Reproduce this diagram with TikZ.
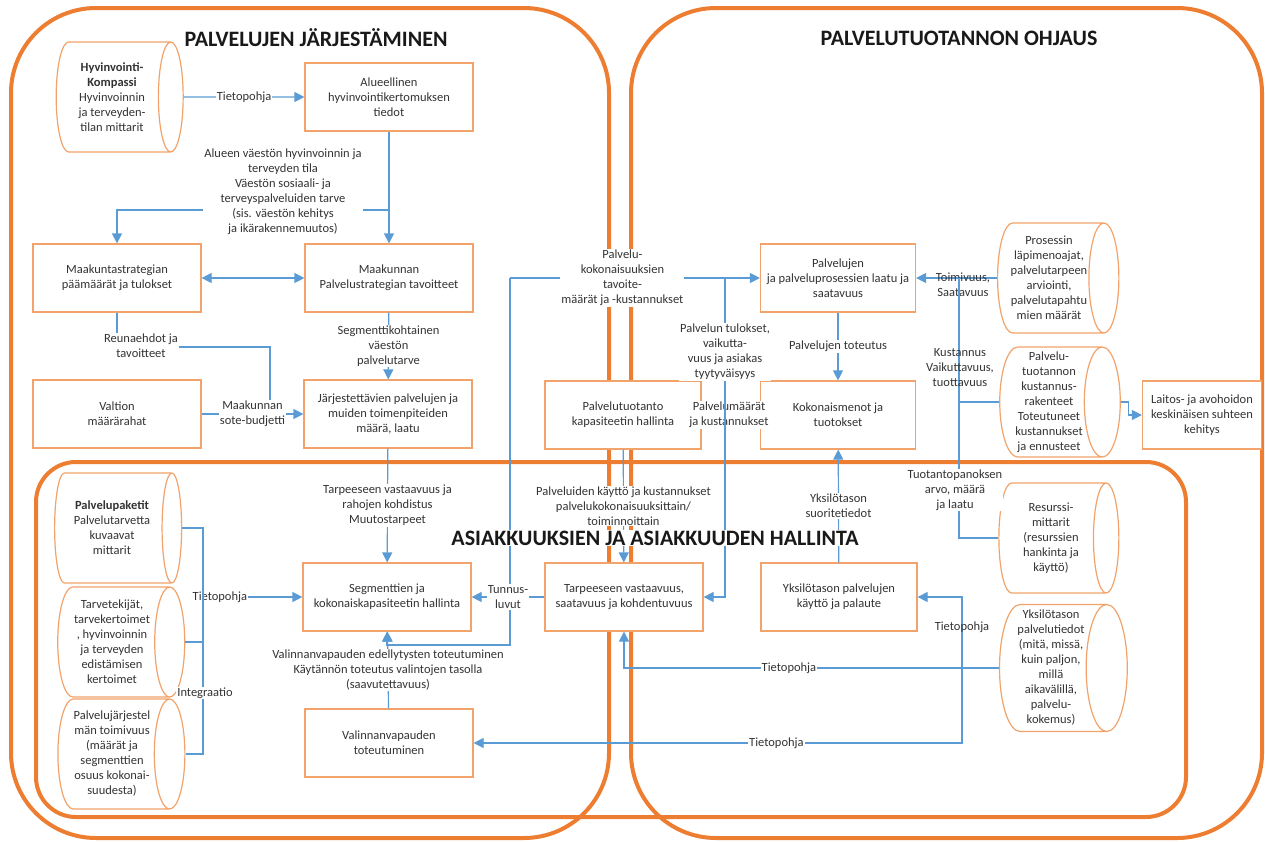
\documentclass[tikz,border=0pt]{standalone}
\usepackage{fontspec}
\setmainfont{Carlito}
\usepackage{xcolor}
\usetikzlibrary{shapes.geometric, arrows.meta, positioning}

\definecolor{frameorange}{HTML}{ED7D31}
\definecolor{boxorange}{HTML}{F2A36B}
\definecolor{linkblue}{HTML}{5B9BD5}
\definecolor{textgray}{HTML}{333333}

\begin{document}
\begin{tikzpicture}[
    x=1pt, y=-1pt,
    frame/.style={draw=frameorange, line width=4pt, rounded corners=85pt},
    box/.style={rectangle, draw=boxorange, line width=1.2pt, fill=white, minimum width=168pt, minimum height=68pt, align=center, inner sep=2pt, text=textgray, font=\fontsize{12.5}{15}\selectfont},
    store/.style={cylinder, draw=boxorange, line width=1.2pt, fill=white, aspect=0.35, minimum width=110pt, minimum height=127pt, align=center, inner sep=1pt, text=textgray, font=\fontsize{12.5}{15}\selectfont},
    lbl/.style={align=center, inner sep=1pt, text=textgray, font=\fontsize{12.5}{15}\selectfont},
    lblw/.style={lbl, fill=white},
    title/.style={inner sep=1pt, text=black!90, font=\fontsize{22}{26}\selectfont\bfseries},
    line/.style={draw=linkblue, line width=1.2pt},
    arrow/.style={line, -{Triangle[length=10pt, width=10pt]}},
    both/.style={line, {Triangle[length=10pt, width=10pt]}-{Triangle[length=10pt, width=10pt]}}
]
\useasboundingbox (0,0) rectangle (1265,841);

% Frames
\draw[frame] (11,8) rectangle (609,838);
\draw[frame] (631,8) rectangle (1262,838);
\draw[frame, rounded corners=40pt] (36,462) rectangle (1186,817);

\node[title] (t_jarj) at (316,38) {PALVELUJEN JÄRJESTÄMINEN};
\node[title] (t_ohjaus) at (959,38) {PALVELUTUOTANNON OHJAUS};

% Top left: Palvelujen jarjestaminen
\node[store] (kompassi) at (112,97) {\textbf{Hyvinvointi-}\\\textbf{Kompassi}\\Hyvinvoinnin\\ja terveyden-\\tilan mittarit};
\node[box] (alue_tieto) at (389,97) {Alueellinen\\hyvinvointikertomuksen\\tiedot};
\node[box] (maak_strat) at (117,278) {Maakuntastrategian\\päämäärät ja tulokset};
\node[box] (palv_strat) at (389,278) {Maakunnan\\Palvelustrategian tavoitteet};
\node[box] (valtio) at (117,414) {Valtion\\määrärahat};
\node[box] (jarj_palv) at (388,414) {Järjestettävien palvelujen ja\\muiden toimenpiteiden\\määrä, laatu};

% Top right: Palvelutuotannon ohjaus
\node[box, minimum width=156pt] (tuot_kap) at (623,415) {Palvelutuotanto\\kapasiteetin hallinta};
\node[box, minimum width=155pt] (laatu) at (838,278) {Palvelujen\\ja palveluprosessien laatu ja\\saatavuus};
\node[box, minimum width=155pt] (kokon) at (838,415) {Kokonaismenot ja\\tuotokset};
\node[box, minimum width=119pt] (laitos) at (1202,415) {Laitos- ja avohoidon\\keskinäisen suhteen\\kehitys};
\node[store, minimum height=116pt] (prosessi) at (1049,278) {Prosessin\\läpimenoajat,\\palvelutarpeen\\arviointi,\\palvelutapahtu\\mien määrät};
\node[store, minimum height=116pt] (kustannus) at (1049,402) {Palvelu-\\tuotannon\\kustannus-\\rakenteet\\Toteutuneet\\kustannukset\\ja ennusteet};

% Bottom: Asiakkuuksien hallinta
\node[store] (paketit) at (112,528) {\textbf{Palvelupaketit}\\Palvelutarvetta\\kuvaavat\\mittarit};
\node[store] (tarvetek) at (112,642) {Tarvetekijät,\\tarvekertoimet\\, hyvinvoinnin\\ja terveyden\\edistämisen\\kertoimet};
\node[store] (jarj_toim) at (112,754) {Palvelujärjestel\\män toimivuus\\(määrät ja\\segmenttien\\osuus kokonai-\\suudesta)};
\node[box] (segm) at (387,597) {Segmenttien ja\\kokonaiskapasiteetin hallinta};
\node[box] (valinta) at (389,743) {Valinnanvapauden\\toteutuminen};
\node[box, minimum width=158pt] (tarve) at (624,597) {Tarpeeseen vastaavuus,\\saatavuus ja kohdentuvuus};
\node[box, minimum width=156pt] (yks_palv) at (839,597) {Yksilötason palvelujen\\käyttö ja palaute};
\node[store, minimum height=120pt] (resurssi) at (1051,538) {Resurssi-\\mittarit\\(resurssien\\hankinta ja\\käyttö)};
\node[store, minimum height=120pt, minimum width=127pt] (yks_data) at (1051,668) {Yksilötason\\palvelutiedot\\(mitä, missä,\\kuin paljon,\\millä\\aikavälillä,\\palvelu-\\kokemus)};

% Connectors, left frame
\draw[arrow] (kompassi.east) -- node[lblw] {Tietopohja} (alue_tieto.west);
\coordinate (split_a) at (389,210);
\draw[arrow] (alue_tieto) -- (palv_strat);
\draw[arrow] (split_a) -| (maak_strat.north);
\node[lblw] (lbl_vaesto) at (283,192) {Alueen väestön hyvinvoinnin ja\\terveyden tila\\Väestön sosiaali- ja\\terveyspalveluiden tarve\\(sis. väestön kehitys\\ja ikärakennemuutos)};
\draw[both] (maak_strat) -- (palv_strat);
\draw[arrow] (palv_strat) -- node[lblw] {Segmenttikohtainen\\väestön\\palvelutarve} (jarj_palv);
\coordinate (budj) at (270,347);
\draw[line] (maak_strat.south) |- (budj) -- (budj |- valtio.east);
\node[lblw] (lbl_reuna) at (141,346) {Reunaehdot ja\\tavoitteet};
\draw[arrow] (valtio) -- node[lblw] {Maakunnan\\sote-budjetti} (jarj_palv);
\draw[arrow] (jarj_palv) -- node[lblw] {Tarpeeseen vastaavuus ja\\rahojen kohdistus\\Muutostarpeet} (segm);

% Connectors, bottom left
\coordinate (brk) at (203,597);
\draw[arrow] (brk) -- node[lblw, pos=0.17] {Tietopohja} (segm.west);
\draw[line] (paketit.east) -- (paketit.east -| brk) |- (jarj_toim.east);
\draw[line] (tarvetek.east) -- (tarvetek.east -| brk);
\node[lblw] (lbl_integr) at (205,693) {Integraatio};
\draw[arrow] (valinta) -- node[lblw] {Valinnanvapauden edellytysten toteutuminen\\Käytännön toteutus valintojen tasolla\\(saavutettavuus)} (segm);

% Connectors, middle
\coordinate (k_top) at (510,278);
\coordinate (k_bot) at (510,645);
\coordinate (k_mid) at (725,278);
\draw[arrow] (k_top) -- node[lblw, pos=0.45] {Palvelu-\\kokonaisuuksien\\tavoite-\\määrät ja -kustannukset} (laatu.west);
\draw[arrow] (k_top) -- (k_bot) -| (segm.south);
\draw[arrow] (tarve) -- node[lblw] {Tunnus-\\luvut} (segm);
\node[lblw] (lbl_maarat) at (729,415) {Palvelumäärät\\ja kustannukset};
\draw[arrow] (k_mid) |- (tarve.east);
\node[lblw] (lbl_tulos) at (725,352) {Palvelun tulokset,\\vaikutta-\\vuus ja asiakas\\tyytyväisyys};
\draw[arrow] (tuot_kap) -- node[lblw] {Palveluiden käyttö ja kustannukset\\palvelukokonaisuuksittain/\\toiminnoittain} (tarve);

% Connectors, right frame
\draw[arrow] (laatu) -- node[lblw] {Palvelujen toteutus} (kokon);
\draw[arrow] (yks_palv) -- node[lblw] {Yksilötason\\suoritetiedot} (kokon);
\draw[arrow] (prosessi.west) -- (laatu.east);
\node[lbl] (lbl_toim) at (963,285) {Toimivuus,\\Saatavuus};
\coordinate (k_res) at (959,278);
\draw[line] (resurssi.west) -| (k_res);
\draw[line] (kustannus.west) -- (kustannus.west -| k_res);
\node[lbl] (lbl_kust) at (960,368) {Kustannus\\Vaikuttavuus,\\tuottavuus};
\node[lblw] (lbl_panos) at (955,490) {Tuotantopanoksen\\arvo, määrä\\ja laatu};
\draw[arrow] (kustannus.east) -- ++(8,0) |- (laitos.west);

\coordinate (k_data) at (962,668);
\draw[arrow] (yks_data.west) -| node[lblw, pos=0.28] {Tietopohja} (tarve.south);
\draw[arrow] (k_data) |- (yks_palv.east);
\node[lbl] (lbl_tieto) at (962,627) {Tietopohja};
\draw[arrow] (k_data) |- node[lblw, pos=0.69] {Tietopohja} (valinta.east);

\node[title, fill=white] (t_asiak) at (655,538) {ASIAKKUUKSIEN JA ASIAKKUUDEN HALLINTA};

\end{tikzpicture}
\end{document}
